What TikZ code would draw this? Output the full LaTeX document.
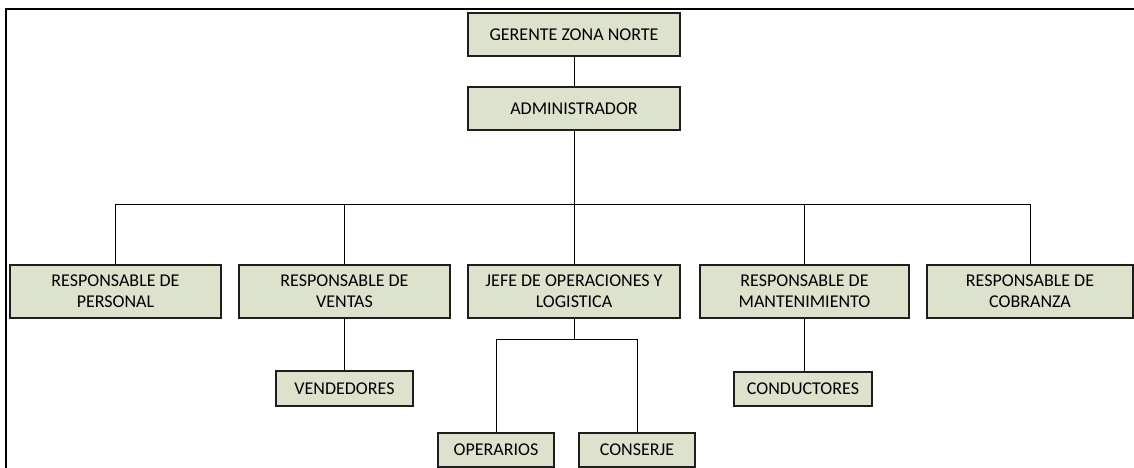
\documentclass[tikz,border=0pt]{standalone}
\usepackage{fontspec}
\setmainfont{Carlito}
\definecolor{boxfill}{RGB}{221,226,205}
\definecolor{boxline}{RGB}{30,30,30}
\begin{document}
\begin{tikzpicture}[x=1pt,y=-1pt,
  orgbox/.style={draw=boxline, line width=1.5pt, fill=boxfill, rectangle,
    align=center, inner sep=0pt, font=\fontsize{18}{21}\selectfont},
  link/.style={draw=black, line width=1pt}]
\useasboundingbox (0,0) rectangle (1134,468);
% outer frame (left and top only)
\draw[line width=2pt] (6,468) -- (6,9) -- (1134,9);

% top levels
\node[orgbox, minimum width=212pt, minimum height=43pt] (ger) at (574,34.5) {GERENTE ZONA NORTE};
\node[orgbox, minimum width=212pt, minimum height=43pt] (adm) at (574,108.5) {ADMINISTRADOR};

% second row
\node[orgbox, minimum width=211pt, minimum height=53pt] (per) at (115.5,291.5) {RESPONSABLE DE\\PERSONAL};
\node[orgbox, minimum width=211pt, minimum height=53pt] (ven) at (344.5,291.5) {RESPONSABLE DE\\VENTAS};
\node[orgbox, minimum width=212pt, minimum height=53pt] (jef) at (574,291.5) {JEFE DE OPERACIONES Y\\LOGISTICA};
\node[orgbox, minimum width=209pt, minimum height=53pt] (man) at (804.5,291.5) {RESPONSABLE DE\\MANTENIMIENTO};
\node[orgbox, minimum width=206pt, minimum height=53pt] (cob) at (1030,291.5) {RESPONSABLE DE\\COBRANZA};

% third row
\node[orgbox, minimum width=137pt, minimum height=35pt] (vnd) at (344.5,388.5) {VENDEDORES};
\node[orgbox, minimum width=138pt, minimum height=34pt] (con) at (803,389) {CONDUCTORES};
\node[orgbox, minimum width=116pt, minimum height=34pt] (ope) at (496,450) {OPERARIOS};
\node[orgbox, minimum width=116pt, minimum height=34pt] (cns) at (637,450) {CONSERJE};

% bus junctions
\coordinate (bus) at (574,204);
\coordinate (jbus) at (574,339);

\draw[link] (ger.south) -- (adm.north);
\draw[link] (adm.south) -- (bus);
\draw[link] (per.north) -- (per.north |- bus) -- (cob.north |- bus) -- (cob.north);
\draw[link] (ven.north) -- (ven.north |- bus);
\draw[link] (jef.north) -- (bus);
\draw[link] (man.north) -- (man.north |- bus);
\draw[link] (ven.south) -- (vnd.north);
\draw[link] (man.south) -- (man.south |- con.north);
\draw[link] (jef.south) -- (jbus);
\draw[link] (ope.north) -- (ope.north |- jbus) -- (cns.north |- jbus) -- (cns.north);
\end{tikzpicture}
\end{document}
